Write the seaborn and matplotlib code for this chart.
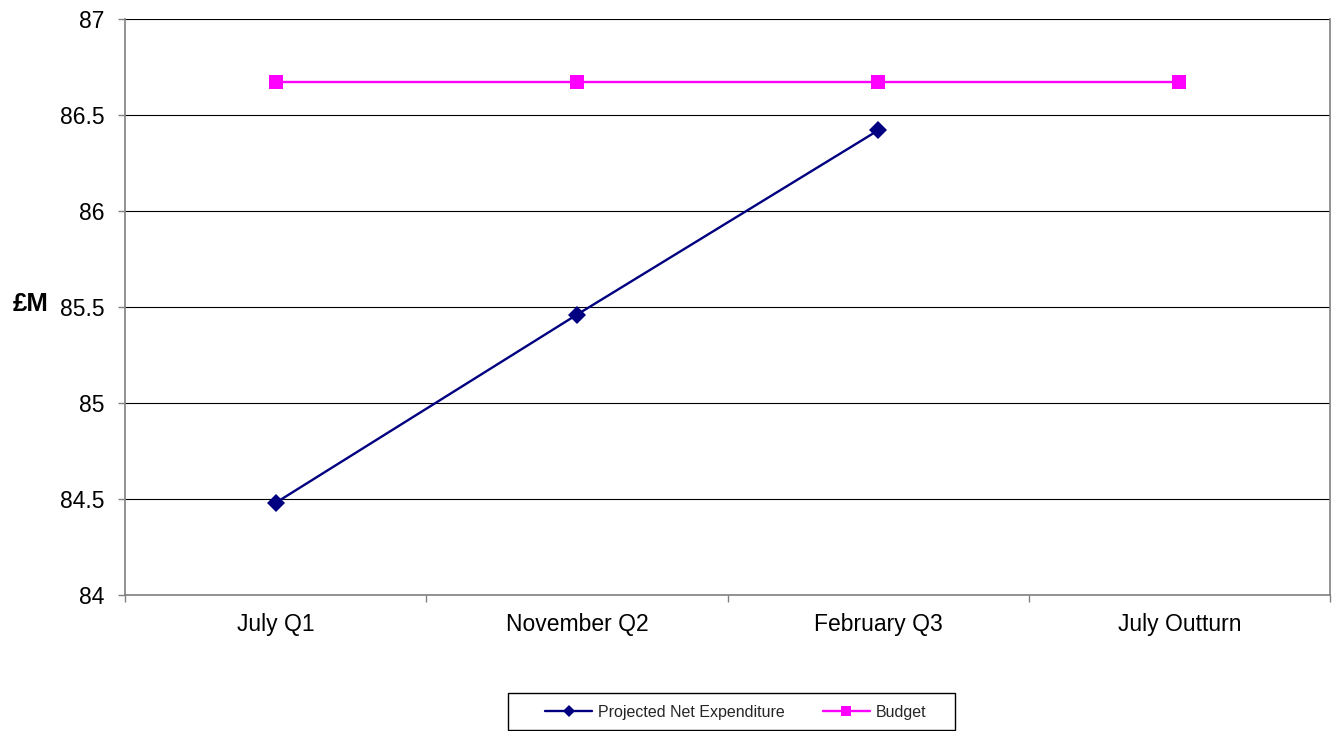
import numpy as np
import pandas as pd
import matplotlib
matplotlib.use("Agg")
import matplotlib.pyplot as plt
from matplotlib.lines import Line2D
from matplotlib.patches import Rectangle
import seaborn as sns

# Quarterly reporting points
periods = ["July Q1", "November Q2", "February Q3", "July Outturn"]
projected = [84.48, 85.46, 86.42, np.nan]
budget = [86.67, 86.67, 86.67, 86.67]
y_ticks = [84, 84.5, 85, 85.5, 86, 86.5, 87]
y_tick_labels = ["84", "84.5", "85", "85.5", "86", "86.5", "87"]

series_names = ["Projected Net Expenditure", "Budget"]
colors = {"Projected Net Expenditure": "#000080", "Budget": "#FF00FF"}
markers = {"Projected Net Expenditure": "D", "Budget": "s"}

df = pd.DataFrame({
    "Period": periods * 2,
    "Value": projected + budget,
    "Series": [series_names[0]] * len(periods) + [series_names[1]] * len(periods),
})

sns.set_theme(style="white")
plt.rcParams["font.family"] = ["Liberation Sans", "DejaVu Sans"]

fig = plt.figure(figsize=(13.35, 7.31), dpi=100)
ax = fig.add_axes([125 / 1335, 136 / 731, 1205 / 1335, 576 / 731])

for name in series_names:
    sub = df[df["Series"] == name].dropna()
    sns.lineplot(
        data=sub, x="Period", y="Value", ax=ax, sort=False,
        color=colors[name], marker=markers[name],
        markersize=10 if name == "Budget" else 9.5,
        markeredgewidth=0, linewidth=1.7, legend=False,
    )

ax.set_xlim(-0.5, len(periods) - 0.5)
ax.set_ylim(84, 87)
ax.set_xticks(range(len(periods)))
ax.set_xticklabels(periods, fontsize=16.5)
ax.set_xticks(np.arange(-0.5, len(periods), 1.0), minor=True)
ax.set_yticks(y_ticks)
ax.set_yticklabels(y_tick_labels, fontsize=16.5)

ax.tick_params(axis="x", which="major", bottom=True, length=0, pad=13, labelcolor="black")
ax.tick_params(axis="x", which="minor", bottom=True, length=5, width=1.0,
               color="#808080", direction="out")
ax.tick_params(axis="y", which="major", left=True, length=5, width=1.0,
               color="#808080", direction="out", pad=10, labelcolor="black")

ax.yaxis.grid(True, color="black", linewidth=0.8)
ax.xaxis.grid(False)
ax.set_axisbelow(True)
for side, sp in ax.spines.items():
    sp.set_color("#808080")
    sp.set_linewidth(1.2)
ax.spines["top"].set_visible(False)

ax.set_xlabel("")
ax.set_ylabel("£M", fontsize=18.5, fontweight="bold", rotation=0, va="center", ha="center",
              color="black")
ax.yaxis.set_label_coords(-0.0780, 0.505)

# Legend entries, with a wide boxed frame around them
handles = [
    Line2D([], [], color=colors[n], marker=markers[n], markersize=6.5 if n == "Budget" else 6,
           markeredgewidth=0, linewidth=1.7)
    for n in series_names
]
leg = fig.legend(
    handles, series_names, loc="center", bbox_to_anchor=(736 / 1335, 1 - 712 / 731),
    ncol=2, frameon=False, fontsize=11.5, handlelength=2.9,
    columnspacing=2.4, handletextpad=0.4, borderpad=0.0, borderaxespad=0,
)
fig.patches.append(Rectangle((508 / 1335, 1 / 731), 447 / 1335, 37 / 731,
                             transform=fig.transFigure, fill=False,
                             edgecolor="black", linewidth=1.0))

fig.savefig("out.png", dpi=100, facecolor="white")
